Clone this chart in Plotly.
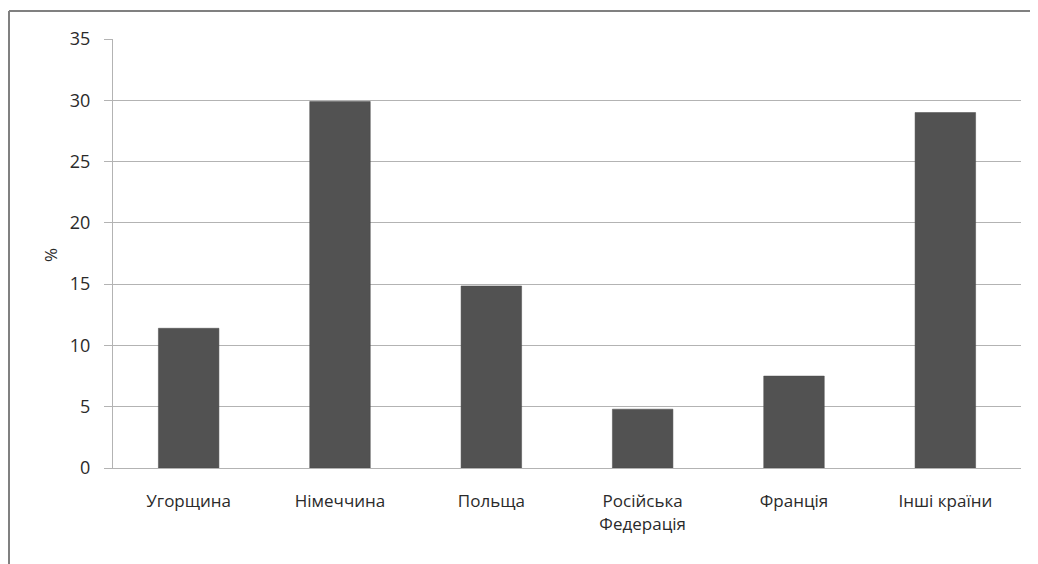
import plotly.graph_objects as go

categories = ["Угорщина", "Німеччина", "Польща", "Російська<br>Федерація", "Франція", "Інші країни"]
values = [11.4, 29.9, 14.85, 4.8, 7.5, 29.0]
y_ticks = [0, 5, 10, 15, 20, 25, 30, 35]

# page body adds an 8px offset
OFF = 8
W, H = 1038 - OFF, 564 - OFF
L, T = 113 - OFF, 39 - OFF
R = W - (1021 - OFF)
B = H - (468 - OFF)
pw, ph = W - L - R, H - T - B

fig = go.Figure(go.Bar(
    x=categories, y=values,
    marker=dict(color="#525252", line=dict(color="#4a4a4a", width=0.5)),
    width=0.4,
))

font = "Open Sans, Liberation Sans, sans-serif"
fig.update_layout(
    width=W, height=H,
    margin=dict(l=L, r=R, t=T, b=B),
    paper_bgcolor="white", plot_bgcolor="white",
    showlegend=False,
    font=dict(family=font, size=17, color="#2a2a2a"),
)
fig.update_yaxes(
    range=[0, 35], tickvals=y_ticks, showgrid=True, gridcolor="#b3b3b3", gridwidth=1,
    showline=True, linecolor="#b3b3b3", linewidth=1,
    ticks="outside", ticklen=8, tickcolor="#b3b3b3",
    tickfont=dict(size=18, color="#2a2a2a"), zeroline=False,
    ticklabelstandoff=10,
)
fig.update_xaxes(
    showline=True, linecolor="#b3b3b3", linewidth=1, ticks="",
    tickfont=dict(size=17, color="#2a2a2a"), ticklabelstandoff=18,
)
fig.add_annotation(
    text="%", textangle=-90, xref="paper", yref="paper",
    x=(50 - OFF - L) / pw, y=(H - B - (255 - OFF)) / ph, showarrow=False,
    font=dict(size=17, color="#2a2a2a"), xanchor="center", yanchor="middle",
)
# outer chart frame (left and top edges)
fx = (8 - OFF - L + 1) / pw
fy = 1 + (T - (10 - OFF) - 1) / ph
fig.add_shape(type="line", xref="paper", yref="paper", x0=fx, x1=fx, y0=fy, y1=-(B + 5) / ph,
              line=dict(color="#808080", width=2))
fig.add_shape(type="line", xref="paper", yref="paper", x0=fx, x1=1 + (R + 5) / pw, y0=fy, y1=fy,
              line=dict(color="#808080", width=2))

fig.write_html("out.html")
